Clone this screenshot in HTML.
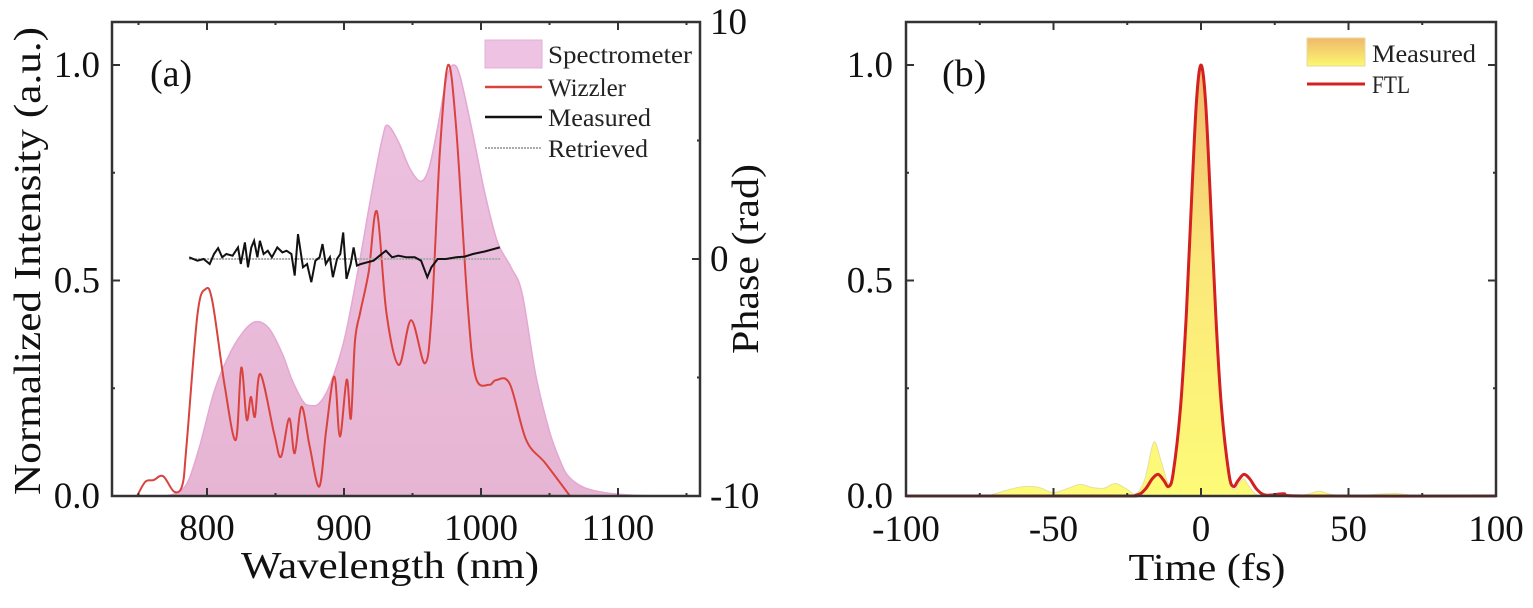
<!DOCTYPE html>
<html><head><meta charset="utf-8"><style>
html,body{margin:0;padding:0;background:#fff;}
svg{display:block;font-family:"Liberation Serif",serif;}
</style></head><body>
<svg id="fig" width="1533" height="608" viewBox="0 0 1533 608">
<defs>
<linearGradient id="pinkG" x1="0" y1="0" x2="0" y2="1"><stop offset="0" stop-color="#eec2e2"/><stop offset="1" stop-color="#e6b5d3"/></linearGradient>
<linearGradient id="yelG" gradientUnits="userSpaceOnUse" x1="0" y1="65" x2="0" y2="496"><stop offset="0" stop-color="#f0b86c"/><stop offset="0.45" stop-color="#fbe77a"/><stop offset="1" stop-color="#fdfb78"/></linearGradient>
<linearGradient id="yelLeg" x1="0" y1="0" x2="0" y2="1"><stop offset="0" stop-color="#f0b86c"/><stop offset="1" stop-color="#fbf870"/></linearGradient>
</defs>
<g id="pa"></g>
<g id="pb"></g>
</svg>
<script>
// ---------- Panel (a) data ----------
const specNm = [770,780,787,795,805,815,825,835,845,855,862,870,875,882,890,900,910,920,928,932,940,948,956,962,968,975,980,985,994,1003,1012,1022,1030,1040,1050,1058,1064,1075,1090,1110,1130];
const specVal = [0,0.01,0.04,0.12,0.24,0.32,0.375,0.404,0.39,0.33,0.27,0.22,0.21,0.215,0.26,0.36,0.52,0.70,0.83,0.86,0.82,0.76,0.73,0.76,0.85,0.97,1.0,0.97,0.84,0.70,0.59,0.53,0.47,0.28,0.15,0.08,0.045,0.02,0.008,0.002,0];
const wizNm = [749,755,761,768,776,782,785,793,799,804,813,821,825,829,832,835,839,849,854,860,864,869,875,882,887,893,897,902,905,908,912,918,924,931,940,949,959,964,970,976,982,990,996,1006,1011,1021,1033,1047,1065];
const wizVal = [0,0.033,0.037,0.046,0.01,0.025,0.114,0.42,0.48,0.45,0.254,0.13,0.298,0.177,0.23,0.184,0.283,0.145,0.091,0.18,0.099,0.207,0.114,0.022,0.153,0.277,0.138,0.27,0.18,0.36,0.428,0.52,0.66,0.424,0.304,0.408,0.308,0.424,0.80,1.0,0.85,0.455,0.277,0.258,0.269,0.26,0.13,0.076,0];
const phNm = [787.0,793.0,797.5,802.0,805.1,808.1,811.1,814.1,818.7,822.6,824.7,827.7,829.9,832.3,834.4,836.8,838.6,841.3,844.4,847.4,851.3,855.0,858.0,861.6,864.0,866.4,870.1,873.1,876.1,879.1,882.2,884.3,886.7,889.7,891.9,894.9,897.3,899.4,901.8,904.9,907.0,909.4,912.4,916.9,921.5,926.0,930.6,935.1,939.6,945.7,951.7,956.3,960.8,963.8,968.4,974.4,982.0,988.0,994.1,1003.1,1013.7];
const phVal = [0.07,-0.07,0,-0.21,0.21,0.46,0.07,0.21,0.14,0.49,-0.21,0.70,-0.35,0.49,0.77,0.07,0.77,0.21,0.35,0.07,0.49,0.28,0.35,0.21,-0.70,1.05,-0.35,-0.21,-0.98,-0.07,0.07,0.63,-0.21,0.07,-0.77,0,0.21,1.12,-0.84,-0.21,0.49,-0.28,-0.21,-0.14,-0.07,0.14,0.35,0.07,0.14,0.07,0.07,-0.07,-0.77,-0.35,0,0,0.07,0.10,0.21,0.32,0.49];
const retNm = [787,1014];
const retVal = [0,0];
const aXTicks = [800,900,1000,1100];
const aYTicks = [0.0,0.5,1.0];
const aY2Ticks = [-10,0,10];
// ---------- Panel (b) data ----------
const measT = [-100,-75,-70,-65,-60,-55,-50,-45,-41,-37,-33,-29,-25,-22,-19,-16,-13.5,-11,-9,-7,-5,-3,-1.5,0,1.5,3,5,7,9,11,13,14.5,16,19,25,35,40,45,55,66,75,100];
const measVal = [0,0,0.005,0.015,0.022,0.02,0.008,0.018,0.027,0.02,0.018,0.029,0.015,0.005,0.04,0.125,0.08,0.03,0.06,0.2,0.42,0.72,0.92,1.0,0.92,0.72,0.42,0.2,0.06,0.015,0.03,0.04,0.025,0.003,0.002,0.003,0.011,0.003,0.002,0.006,0,0];
const ftlT = [-100,-30,-22,-19,-16.5,-14.5,-12.5,-11,-9.5,-7,-5,-3,-1.5,0,1.5,3,5,7,9.5,11,12.5,14.5,16.5,19,22,28,35,100];
const ftlVal = [0,0,0.002,0.015,0.04,0.05,0.035,0.022,0.05,0.2,0.42,0.72,0.92,1.0,0.92,0.72,0.42,0.2,0.05,0.022,0.035,0.05,0.04,0.015,0.002,0.005,0,0];
const bXTicks = [-100,-50,0,50,100];
const bYTicks = [0.0,0.5,1.0];

const NS = "http://www.w3.org/2000/svg";
function mk(tag, attrs, parent){const e=document.createElementNS(NS,tag);for(const k in attrs)e.setAttribute(k,attrs[k]);parent.appendChild(e);return e;}
function smooth(xs, ys){
  let d="M"+xs[0].toFixed(1)+","+ys[0].toFixed(1);
  for(let i=0;i<xs.length-1;i++){
    const x0=xs[Math.max(i-1,0)],y0=ys[Math.max(i-1,0)],x1=xs[i],y1=ys[i],x2=xs[i+1],y2=ys[i+1],x3=xs[Math.min(i+2,xs.length-1)],y3=ys[Math.min(i+2,xs.length-1)];
    const c1x=x1+(x2-x0)/6,c1y=y1+(y2-y0)/6,c2x=x2-(x3-x1)/6,c2y=y2-(y3-y1)/6;
    d+=" C"+c1x.toFixed(1)+","+c1y.toFixed(1)+" "+c2x.toFixed(1)+","+c2y.toFixed(1)+" "+x2.toFixed(1)+","+y2.toFixed(1);
  }
  return d;
}
const A={l:112,r:700,t:22,b:496};
const ax=v=>207+(v-800)*1.37;
const ay=v=>496-v*431;
const ay2=v=>259-v*23.7;
const pa=document.getElementById('pa');
const pb=document.getElementById('pb');

let e;
{
 const xs=specNm.map(ax), ys=specVal.map(ay);
 e=mk('path',{d:smooth(xs,ys)+" L"+xs[xs.length-1]+","+A.b+" L"+xs[0]+","+A.b+" Z",fill:"url(#pinkG)",stroke:"#e4a8d2","stroke-width":1.5},pa);
 
 
}
{
 e=mk('path',{d:smooth(wizNm.map(ax),wizVal.map(ay)),fill:"none",stroke:"#d8433e","stroke-width":2},pa);
 
 
}
{
 e=mk('path',{d:"M"+ax(retNm[0])+","+ay2(retVal[0])+" L"+ax(retNm[1])+","+ay2(retVal[1]),fill:"none",stroke:"#aaa","stroke-width":2,"stroke-dasharray":"2,1"},pa);
 
 
}
{
 e=mk('polyline',{points:phNm.map((n,i)=>ax(n).toFixed(1)+","+ay2(phVal[i]).toFixed(1)).join(" "),fill:"none",stroke:"#111","stroke-width":2},pa);
 
 
}
e=mk('rect',{x:A.l,y:A.t,width:A.r-A.l,height:A.b-A.t,fill:"none",stroke:"#333","stroke-width":2.5},pa);


for(let v=750;v<=1150;v+=50){
  const x=ax(v), maj=aXTicks.includes(v), L=maj?8:3;
  mk('line',{x1:x,y1:A.b,x2:x,y2:A.b-L,stroke:"#333","stroke-width":2},pa);
  mk('line',{x1:x,y1:A.t,x2:x,y2:A.t+L,stroke:"#333","stroke-width":2},pa);
}
aXTicks.forEach(v=>{e=mk('text',{x:ax(v),y:540,"text-anchor":"middle","font-size":37,fill:"#111"},pa);e.textContent=String(v);
 
 });
for(let v=0;v<=1.0001;v+=0.25){const y=ay(v),maj=Math.abs(v*2-Math.round(v*2))<1e-6;mk('line',{x1:A.l,y1:y,x2:A.l+(maj?8:3),y2:y,stroke:"#333","stroke-width":2},pa);}
aYTicks.forEach(v=>{e=mk('text',{x:100,y:ay(v)+12,"text-anchor":"end","font-size":37,fill:"#111"},pa);e.textContent=v.toFixed(1);
 
 });
for(let v=-10;v<=10;v+=5){const y=ay2(v),maj=v%10===0;mk('line',{x1:A.r,y1:y,x2:A.r-(maj?8:3),y2:y,stroke:"#333","stroke-width":2},pa);}
aY2Ticks.forEach(v=>{e=mk('text',{x:710,y:ay2(v)+12,"text-anchor":"start","font-size":37,fill:"#111"},pa);e.textContent=String(v);
 
 });
e=mk('text',{x:390,y:578,"text-anchor":"middle","font-size":38,fill:"#111",textLength:298,lengthAdjust:"spacingAndGlyphs"},pa);e.textContent="Wavelength (nm)";


e=mk('text',{x:0,y:0,"text-anchor":"middle","font-size":38,fill:"#111",transform:"translate(40,261) rotate(-90)",textLength:468,lengthAdjust:"spacingAndGlyphs"},pa);e.textContent="Normalized Intensity (a.u.)";


e=mk('text',{x:0,y:0,"text-anchor":"middle","font-size":38,fill:"#111",transform:"translate(758,259) rotate(-90)",textLength:190,lengthAdjust:"spacingAndGlyphs"},pa);e.textContent="Phase (rad)";


e=mk('text',{x:150,y:86,"font-size":38,fill:"#111"},pa);e.textContent="(a)";


e=mk('rect',{x:485,y:40,width:57,height:28,fill:"#eec2e2",stroke:"#e4b0d6"},pa);


mk('line',{x1:485,y1:87,x2:542,y2:87,stroke:"#d8433e","stroke-width":2.5},pa);
mk('line',{x1:485,y1:117,x2:542,y2:117,stroke:"#111","stroke-width":2.5},pa);
mk('line',{x1:485,y1:148,x2:542,y2:148,stroke:"#aaa","stroke-width":2,"stroke-dasharray":"2,1"},pa);
[["Spectrometer",63,144],["Wizzler",96,78],["Measured",126,103],["Retrieved",157,100]].forEach(([t,y,w])=>{e=mk('text',{x:548,y:y,"font-size":25,fill:"#222",textLength:w,lengthAdjust:"spacingAndGlyphs"},pa);e.textContent=t;
 
 });

const B={l:906,r:1496,t:22,b:496};
const bx=v=>1201+v*2.95;
const by=v=>496-v*431;
{
 const xs=measT.map(bx), ys=measVal.map(by);
 e=mk('path',{d:smooth(xs,ys)+" L"+xs[xs.length-1]+","+B.b+" L"+xs[0]+","+B.b+" Z",fill:"url(#yelG)",stroke:"#e8e0a0","stroke-width":1},pb);
 
 
}
{
 e=mk('path',{d:smooth(ftlT.map(bx),ftlVal.map(by)),fill:"none",stroke:"#d42020","stroke-width":3},pb);
 
 
}
e=mk('rect',{x:B.l,y:B.t,width:B.r-B.l,height:B.b-B.t,fill:"none",stroke:"#333","stroke-width":2.5},pb);


for(let v=-100;v<=100;v+=25){const x=bx(v),maj=v%50===0,L=maj?8:3;
 mk('line',{x1:x,y1:B.b,x2:x,y2:B.b-L,stroke:"#333","stroke-width":2},pb);
 mk('line',{x1:x,y1:B.t,x2:x,y2:B.t+L,stroke:"#333","stroke-width":2},pb);}
bXTicks.forEach(v=>{e=mk('text',{x:bx(v),y:541,"text-anchor":"middle","font-size":37,fill:"#111"},pb);e.textContent=String(v);
 
 });
for(let v=0;v<=1.0001;v+=0.25){const y=by(v),maj=Math.abs(v*2-Math.round(v*2))<1e-6,L=maj?8:3;
 mk('line',{x1:B.l,y1:y,x2:B.l+L,y2:y,stroke:"#333","stroke-width":2},pb);
 mk('line',{x1:B.r,y1:y,x2:B.r-L,y2:y,stroke:"#333","stroke-width":2},pb);}
bYTicks.forEach(v=>{e=mk('text',{x:893,y:by(v)+12,"text-anchor":"end","font-size":37,fill:"#111"},pb);e.textContent=v.toFixed(1);
 
 });
e=mk('text',{x:1207,y:580,"text-anchor":"middle","font-size":38,fill:"#111",textLength:157,lengthAdjust:"spacingAndGlyphs"},pb);e.textContent="Time (fs)";


e=mk('text',{x:942,y:86,"font-size":38,fill:"#111"},pb);e.textContent="(b)";


e=mk('rect',{x:1307,y:38,width:58,height:28,fill:"url(#yelLeg)",stroke:"#e8d8a0"},pb);


mk('line',{x1:1307,y1:84,x2:1365,y2:84,stroke:"#d42020","stroke-width":3},pb);
[["Measured",62,104],["FTL",93,38]].forEach(([t,y,w])=>{e=mk('text',{x:1372,y:y,"font-size":25,fill:"#222",textLength:w,lengthAdjust:"spacingAndGlyphs"},pb);e.textContent=t;
 
 });
</script>
</body></html>
